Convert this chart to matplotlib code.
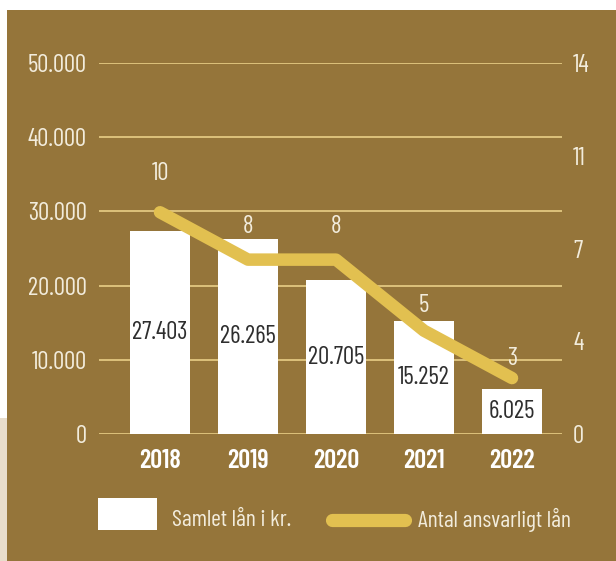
import matplotlib.pyplot as plt
from matplotlib.patches import Rectangle
from matplotlib.lines import Line2D

years = ["2018", "2019", "2020", "2021", "2022"]
loan_total = [27403, 26265, 20705, 15252, 6025]
loan_labels = ["27.403", "26.265", "20.705", "15.252", "6.025"]
responsible_count = [10, 8, 8, 5, 3]
left_ticks = [0, 10000, 20000, 30000, 40000, 50000]
left_tick_labels = ["0", "10.000", "20.000", "30.000", "40.000", "50.000"]
right_tick_labels = ["0", "4", "7", "11", "14"]

brown = "#95753A"
yellow = "#E2C050"
grid_col = "#E8CF86"
text_col = "#F2ECDC"
plt.rcParams["font.family"] = ["Barlow Condensed", "DejaVu Sans"]
fs = 18
wt = "normal"

W, H = 616, 561
fig = plt.figure(figsize=(W / 100, H / 100), dpi=100, facecolor="white")
fig.patches.append(Rectangle((7 / W, 0), 1, 1 - 10 / H, transform=fig.transFigure,
                             facecolor=brown, edgecolor="none", zorder=-2))
fig.patches.append(Rectangle((0, 0), 7 / W, (H - 418) / H, transform=fig.transFigure,
                             facecolor="#E8DDCB", edgecolor="none", zorder=-2))

ax = fig.add_axes([99 / W, 127 / H, 463 / W, 371 / H])
ax.set_facecolor("none")
x = range(len(years))
ax.bar(x, loan_total, width=0.68, color="white", zorder=2)
for i, v in enumerate(loan_total):
    ax.text(i, v / 2, loan_labels[i], ha="center", va="center", fontsize=fs,
            fontweight=wt, color="#2E2E2E", zorder=5)
ax.set_ylim(0, 50000)
ax.set_xlim(-0.693, 4.568)
ax.set_yticks(left_ticks)
ax.set_yticklabels(left_tick_labels, fontweight=wt)
ax.set_xticks(list(x))
ax.set_xticklabels(years, fontweight="semibold")
ax.tick_params(axis="y", length=0, pad=9, labelsize=fs, labelcolor=text_col)
ax.tick_params(axis="x", length=0, pad=11, labelsize=fs + 1, labelcolor="white")
ax.grid(axis="y", color=grid_col, linewidth=1.2, zorder=0)
for s in ax.spines.values():
    s.set_visible(False)

# right axis, ticks only
ax2 = ax.twinx()
ax2.set_ylim(0, 14)
ax2.set_yticks([0, 3.5, 7, 10.5, 14])
ax2.set_yticklabels(right_tick_labels, fontweight=wt)
ax2.tick_params(axis="y", length=0, pad=8, labelsize=fs, labelcolor=text_col)
for s in ax2.spines.values():
    s.set_visible(False)
for i, v in enumerate(responsible_count):
    ax2.annotate(str(v), (i, v), xytext=(0, -3), textcoords="offset points",
                 ha="center", va="center", fontsize=fs, fontweight=wt,
                 color=text_col)

# line series drawn on its own scale
ax3 = ax.twinx()
ax3.set_ylim(0.64, 16.3)
ax3.axis("off")
ax3.plot(list(x), responsible_count, color=yellow, linewidth=9,
         solid_capstyle="round", solid_joinstyle="round", zorder=3)

# legend
fig.patches.append(Rectangle((98 / W, 1 - 530 / H), 59 / W, 32 / H,
                             transform=fig.transFigure, facecolor="white",
                             edgecolor="none"))
fig.text(172 / W, 1 - 520 / H, "Samlet lån i kr.", fontsize=fs - 1, fontweight=wt,
         color=text_col, va="center", ha="left")
fig.lines.append(Line2D([332 / W, 405 / W], [1 - 520 / H, 1 - 520 / H],
                        transform=fig.transFigure, color=yellow, linewidth=9.5,
                        solid_capstyle="round"))
fig.text(418 / W, 1 - 520 / H, "Antal ansvarligt lån", fontsize=fs - 1, fontweight=wt,
         color=text_col, va="center", ha="left")

fig.savefig("out.png", dpi=100, facecolor=fig.get_facecolor())
